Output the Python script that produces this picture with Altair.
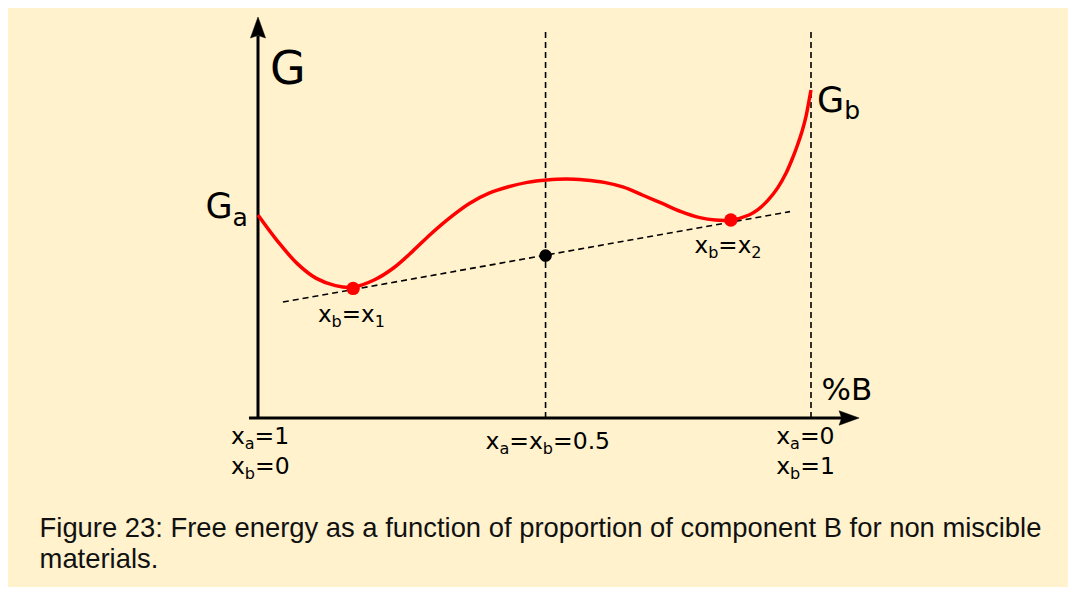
import altair as alt
import pandas as pd

BG = "#fff2cc"

# ---- data (composition of B on x, free energy G in arbitrary units on y) ----
curve_x = [0.000, 0.036, 0.071, 0.1055, 0.140, 0.171, 0.210, 0.245, 0.279, 0.314,
           0.349, 0.383, 0.418, 0.453, 0.487, 0.522, 0.557, 0.591, 0.626, 0.661,
           0.695, 0.730, 0.765, 0.799, 0.827, 0.855, 0.888, 0.904, 0.922, 0.940,
           0.955, 0.966, 0.975, 0.984, 0.991, 0.996, 1.000]
curve_g = [50.75, 44.1, 38.6, 34.9, 33.1, 32.7, 34.5, 37.5, 41.6, 46.2,
           50.3, 53.7, 56.2, 57.8, 58.9, 59.5, 59.75, 59.5, 58.9, 57.7,
           55.75, 53.7, 51.6, 50.1, 49.5, 49.5, 50.75, 52.1, 54.4, 57.6,
           61.25, 64.75, 68.0, 71.75, 75.4, 79.0, 82.0]

tangent_x = [0.045, 0.962]
tangent_g = [29.0, 51.6]

minima_x = [0.172, 0.855]
minima_g = [32.4, 49.5]

mix_x = [0.520]
mix_g = [40.6]

guide_x = [0.520, 1.000]
guide_top = [97.5, 97.5]

caption_lines = [
    "Figure 23: Free energy as a function of proportion of component B for non miscible",
    "materials.",
]

# ---- scales ----
PX_X = 553.0   # pixels per unit of composition
PX_G = 4.0     # pixels per unit of G
XS = alt.Scale(domain=[0, 1], range=[250, 803], nice=False, zero=False)
YS = alt.Scale(domain=[0, 100], range=[410, 10], nice=False, zero=False)


def X(f):
    return alt.X(f, type="quantitative", scale=XS, axis=None)


def Y(f):
    return alt.Y(f, type="quantitative", scale=YS, axis=None)


# ---- text with subscripts ----
W = {'x': 0.592, 'a': 0.613, 'b': 0.635, '=': 0.838, '0': 0.636, '1': 0.636,
     '2': 0.636, '5': 0.636, '.': 0.318, 'G': 0.775, '%': 0.950, 'B': 0.686}


def tw(s, size):
    return sum(W.get(c, 0.6) for c in s) * size


rows = []


def label(parts, x0, g0, main, sub, drop_px, align="left"):
    """parts: list of (text, is_sub)."""
    total = sum(tw(t, sub if s else main) for t, s in parts)
    cur = x0 if align == "left" else x0 - total / 2 / PX_X
    for t, s in parts:
        size = sub if s else main
        rows.append({"t": t, "x": cur, "g": g0 - (drop_px / PX_G if s else 0), "size": size})
        cur += tw(t, size) / PX_X


label([("G", False)], 0.0215, 83.5, 46, 30, 0)
label([("G", False), ("a", True)], -0.095, 50.0, 35, 25, 8)
label([("G", False), ("b", True)], 1.011, 76.5, 35, 25, 7)
label([("%B", False)], 1.019, 4.5, 31, 20, 0)
label([("x", False), ("a", True), ("=1", False)], -0.049, -6.5, 23.5, 16, 5)
label([("x", False), ("b", True), ("=0", False)], -0.049, -14.0, 23.5, 16, 5)
label([("x", False), ("a", True), ("=0", False)], 0.937, -6.5, 23.5, 16, 5)
label([("x", False), ("b", True), ("=1", False)], 0.937, -14.0, 23.5, 16, 5)
label([("x", False), ("a", True), ("=x", False), ("b", True), ("=0.5", False)],
      0.524, -7.75, 23.5, 16, 5, align="center")
label([("x", False), ("b", True), ("=x", False), ("1", True)], 0.1085, 24.1, 23, 16, 5)
label([("x", False), ("b", True), ("=x", False), ("2", True)], 0.7895, 41.25, 23, 16, 5)

labels_df = pd.DataFrame(rows)
caption_df = pd.DataFrame({"t": caption_lines, "x": [-0.395, -0.395], "g": [-29.75, -37.5]})

curve_df = pd.DataFrame({"x": curve_x, "g": curve_g})
tangent_df = pd.DataFrame({"x": tangent_x, "g": tangent_g})
minima_df = pd.DataFrame({"x": minima_x, "g": minima_g})
mix_df = pd.DataFrame({"x": mix_x, "g": mix_g})
guide_df = pd.DataFrame({"x": guide_x, "g": [0, 0], "g2": guide_top})
yaxis_df = pd.DataFrame({"x": [0.0], "x2": [0.0], "g": [0.0], "g2": [95.5]})
xaxis_df = pd.DataFrame({"x": [-0.0163], "x2": [1.06], "g": [0.0], "g2": [0.0]})
yarrow_df = pd.DataFrame({"x": [0.0], "g": [100.25]})
xarrow_df = pd.DataFrame({"x": [1.087], "g": [0.0]})

guides = alt.Chart(guide_df).mark_rule(color="black", strokeWidth=1.6, strokeDash=[6, 4]).encode(
    x=X("x"), y=Y("g"), y2="g2")
tangent = alt.Chart(tangent_df).mark_line(color="black", strokeWidth=1.6, strokeDash=[6, 4]).encode(
    x=X("x"), y=Y("g"))
yaxis = alt.Chart(yaxis_df).mark_rule(color="black", strokeWidth=3).encode(
    x=X("x"), x2="x2", y=Y("g"), y2="g2")
xaxis = alt.Chart(xaxis_df).mark_rule(color="black", strokeWidth=3).encode(
    x=X("x"), x2="x2", y=Y("g"), y2="g2")
yarrow = alt.Chart(yarrow_df).mark_point(
    shape="M0,0L0.72,2L0,1.75L-0.72,2Z", filled=True, fill="black", stroke="black",
    strokeWidth=0.5, opacity=1, size=441).encode(x=X("x"), y=Y("g"))
xarrow = alt.Chart(xarrow_df).mark_point(
    shape="M0,0L-2,-0.72L-1.75,0L-2,0.72Z", filled=True, fill="black", stroke="black",
    strokeWidth=0.5, opacity=1, size=400).encode(x=X("x"), y=Y("g"))
curve = alt.Chart(curve_df).mark_line(color="#ff0000", strokeWidth=3.5, interpolate="catmull-rom").encode(
    x=X("x"), y=Y("g"), order="x:Q")
minima = alt.Chart(minima_df).mark_circle(color="#ff0000", opacity=1, size=180).encode(
    x=X("x"), y=Y("g"))
mix = alt.Chart(mix_df).mark_circle(color="black", opacity=1, size=160).encode(
    x=X("x"), y=Y("g"))
texts = alt.Chart(labels_df).mark_text(
    font="DejaVu Sans", align="left", baseline="alphabetic", color="black").encode(
    x=X("x"), y=Y("g"), text="t:N", size=alt.Size("size:Q", scale=None, legend=None))
caption = alt.Chart(caption_df).mark_text(
    font="Liberation Sans", fontSize=27.4, align="left", baseline="alphabetic", color="#111111").encode(
    x=X("x"), y=Y("g"), text="t:N")

chart = alt.layer(
    guides, tangent, yaxis, xaxis, yarrow, xarrow, curve, minima, mix, texts, caption
).properties(
    width=1060, height=579, background=BG, padding=0
).configure_view(strokeWidth=0)

chart.save("out.html", embed_options={"renderer": "svg", "actions": False})
